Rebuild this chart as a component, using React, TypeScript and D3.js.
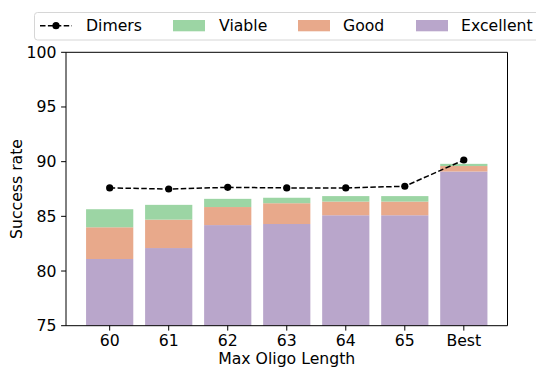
import React from "react";
import * as d3 from "d3";

// Success rate by maximum oligo length (stacked quality tiers + dimer line)
const categories = ["60", "61", "62", "63", "64", "65", "Best"];
const excellent = [81.1, 82.1, 84.2, 84.3, 85.1, 85.1, 89.1];
const goodTop = [84.0, 84.7, 85.85, 86.2, 86.35, 86.35, 89.6];
const viableTop = [85.65, 86.05, 86.6, 86.7, 86.85, 86.85, 89.8];
const dimers = [87.6, 87.5, 87.65, 87.6, 87.6, 87.75, 90.15];
const yTicks = [75, 80, 85, 90, 95, 100];

const COLORS = {
  excellent: "#b9a6cb",
  good: "#e8a98b",
  viable: "#9cd5a4",
};

const FONT = "DejaVu Sans, sans-serif";
const FS = 15.7;

export default function App() {
  const width = 536;
  const height = 367;
  const left = 66;
  const right = 507.5;
  const top = 52.3;
  const bottom = 325.7;

  const x = d3.scaleLinear().domain([-0.74, 6.74]).range([left, right]);
  const y = d3.scaleLinear().domain([75, 100]).range([bottom, top]);
  const barW = x(0.8) - x(0);

  const stacks = categories.map((c, i) => [
    { key: "excellent", y0: 75, y1: excellent[i], color: COLORS.excellent },
    { key: "good", y0: excellent[i], y1: goodTop[i], color: COLORS.good },
    { key: "viable", y0: goodTop[i], y1: viableTop[i], color: COLORS.viable },
  ]);

  const line = d3
    .line<number>()
    .x((_, i) => x(i))
    .y((d) => y(d));

  return (
    <svg
      width={width}
      height={height}
      style={{ position: "absolute", left: 0, top: 0, background: "#fff" }}
      fontFamily={FONT}
    >
      {/* bars */}
      {stacks.map((segs, i) =>
        segs.map((s) => (
          <rect
            key={categories[i] + s.key}
            x={x(i) - barW / 2}
            y={y(s.y1)}
            width={barW}
            height={y(s.y0) - y(s.y1)}
            fill={s.color}
          />
        ))
      )}

      {/* dimers line */}
      <path
        d={line(dimers) || ""}
        fill="none"
        stroke="#000"
        strokeWidth={1.5}
        strokeDasharray="5.5,2.4"
      />
      {dimers.map((d, i) => (
        <circle key={"m" + i} cx={x(i)} cy={y(d)} r={3.6} fill="#000" />
      ))}

      {/* spines */}
      <line x1={left} x2={left} y1={top} y2={bottom} stroke="#000" strokeWidth={1} />
      <line x1={left} x2={right} y1={top} y2={top} stroke="#000" strokeWidth={1} />
      <line x1={left} x2={right} y1={bottom} y2={bottom} stroke="#000" strokeWidth={1} />
      <line x1={right} x2={right} y1={top} y2={bottom} stroke="#000" strokeWidth={1} />

      {/* y axis */}
      {yTicks.map((t) => (
        <g key={"y" + t}>
          <line x1={left - 4.9} x2={left} y1={y(t)} y2={y(t)} stroke="#000" strokeWidth={1} />
          <text
            x={left - 9.5}
            y={y(t)}
            textAnchor="end"
            dominantBaseline="central"
            fontSize={FS}
            fill="#000"
          >
            {t}
          </text>
        </g>
      ))}
      <text
        transform={`translate(22,189) rotate(-90)`}
        textAnchor="middle"
        fontSize={FS}
        fill="#000"
      >
        Success rate
      </text>

      {/* x axis */}
      {categories.map((c, i) => (
        <g key={"x" + c}>
          <line x1={x(i)} x2={x(i)} y1={bottom} y2={bottom + 4.9} stroke="#000" strokeWidth={1} />
          <text x={x(i)} y={346.3} textAnchor="middle" fontSize={FS} fill="#000">
            {c}
          </text>
        </g>
      ))}
      <text x={(left + right) / 2} y={363.5} textAnchor="middle" fontSize={FS} fill="#000">
        Max Oligo Length
      </text>

      {/* legend */}
      <rect
        x={34.5}
        y={12.5}
        width={520}
        height={27.5}
        rx={3}
        fill="#fff"
        fillOpacity={0.8}
        stroke="#d6d6d6"
        strokeWidth={1}
      />
      <line
        x1={40}
        x2={72}
        y1={25.7}
        y2={25.7}
        stroke="#000"
        strokeWidth={1.5}
        strokeDasharray="5.5,2.4"
      />
      <circle cx={56} cy={25.7} r={3.6} fill="#000" />
      <text x={86} y={31.3} fontSize={FS} fill="#000">
        Dimers
      </text>
      <rect x={173} y={20} width={32} height={11.3} fill={COLORS.viable} />
      <text x={219} y={31.3} fontSize={FS} fill="#000">
        Viable
      </text>
      <rect x={298} y={20} width={32} height={11.3} fill={COLORS.good} />
      <text x={343} y={31.3} fontSize={FS} fill="#000">
        Good
      </text>
      <rect x={416} y={20} width={32} height={11.3} fill={COLORS.excellent} />
      <text x={461} y={31.3} fontSize={FS} fill="#000">
        Excellent
      </text>
    </svg>
  );
}
